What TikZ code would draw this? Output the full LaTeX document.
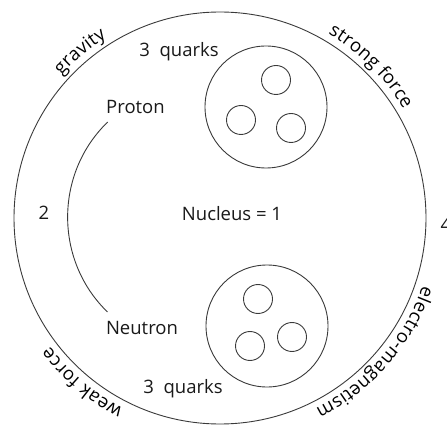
\documentclass[tikz,border=0pt]{standalone}
\usepackage{fontspec}
\usepackage{tikz}
\usetikzlibrary{decorations.text, positioning}
\newfontfamily\opensans{Open Sans}
\newcommand{\labelsize}{\opensans\fontsize{18.5}{22}\selectfont}
\definecolor{atomline}{HTML}{3a3a3a}

\begin{document}
\begin{tikzpicture}[
    x=1pt, y=1pt,
    shell/.style={circle, draw=atomline, line width=0.9pt, inner sep=0pt, minimum size=412pt},
    hadron/.style={circle, draw=atomline, line width=0.9pt, inner sep=0pt, minimum size=122pt},
    quark/.style={circle, draw=atomline, line width=0.9pt, inner sep=0pt, minimum size=29pt},
    tag/.style={font=\labelsize, text=black!90, anchor=base},
    force/.style={decorate, decoration={text along path, text align=center, raise=7pt, text={|\labelsize|#1}}},
    link/.style={draw=atomline, line width=0.9pt}
]
\useasboundingbox (0,0) rectangle (447,426);

% Circles
\node[shell] (atom) at (220,208) {};
\node[hadron] (protonball) at (266,319) {};
\node[hadron] (neutronball) at (267,100) {};

\node[quark] (pquarka) at (276,346) {};
\node[quark] (pquarkb) at (241,306) {};
\node[quark] (pquarkc) at (291,298) {};

\node[quark] (nquarka) at (258,127) {};
\node[quark] (nquarkb) at (250,80) {};
\node[quark] (nquarkc) at (292,89) {};

% Labels
\node[tag] (nucleus) at (232,205) {Nucleus = 1};
\node[tag] (two) at (44,206) {2};
\node[tag, anchor=base west] (four) at (437,194) {4};
\node[tag] (proton) at (135.5,312.7) {Proton};
\node[tag] (neutron) at (142,91.3) {Neutron};
\node[tag] (topquarks) at (179,369) {3\ \ quarks};
\node[tag] (bottomquarks) at (183,33) {3\ \ quarks};

% Forces
\path[force=gravity] (atom.150) arc[start angle=150, end angle=110, radius=206pt];
\path[force=strong force] (atom.75) arc[start angle=75, end angle=15, radius=206pt];
\path[force=electro-magnetism] (atom.-5) arc[start angle=-5, end angle=-77, radius=206pt];
\path[force=weak force] (atom.250) arc[start angle=250, end angle=210, radius=206pt];

% Connector
\draw[link] ([shift={(5,-5)}]proton.south west) to[out=224, in=136] ([shift={(5,6)}]neutron.north west);

\end{tikzpicture}
\end{document}
